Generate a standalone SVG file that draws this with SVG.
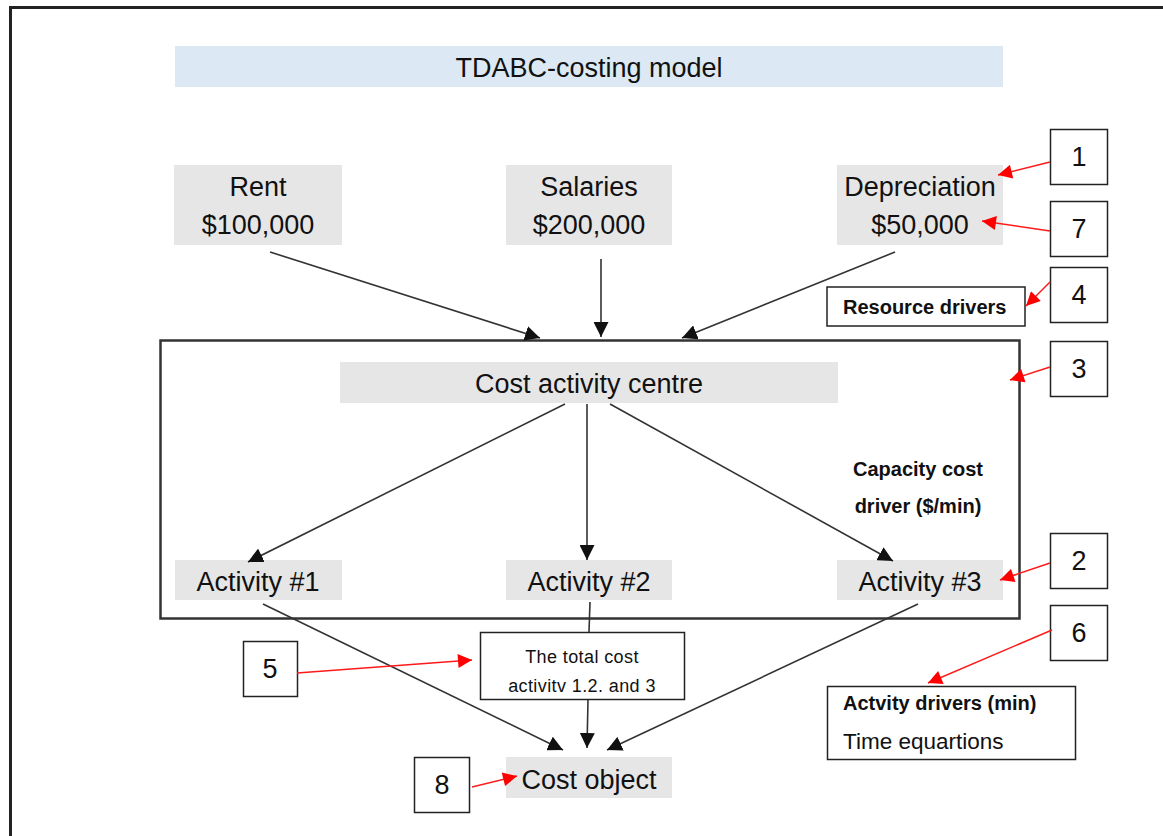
<svg xmlns="http://www.w3.org/2000/svg" width="1163" height="836" viewBox="0 0 1163 836">
  <style>
    text { font-family: "Liberation Sans", Arial, sans-serif; fill: #111; }
    .big { font-size: 27px; text-anchor: middle; }
    .num { font-size: 27px; text-anchor: middle; }
    .bold { font-size: 20px; font-weight: bold; }
    .small { font-size: 18px; text-anchor: middle; letter-spacing: 0.4px; }
    .cell { fill: #e6e6e6; }
    .box { fill: #fff; stroke: #222; stroke-width: 1.5; }
    .link { stroke: #333; stroke-width: 1.6; fill: none; }
    .red { stroke: #ff1a1a; stroke-width: 1.5; fill: none; }
  </style>
  <defs>
    <marker id="ah" viewBox="0 0 10 10" refX="10" refY="5" markerWidth="15" markerHeight="15" markerUnits="userSpaceOnUse" orient="auto">
      <path d="M0,0 L10,5 L0,10 z" fill="#111"/>
    </marker>
    <marker id="ahr" viewBox="0 0 10 10" refX="10" refY="5" markerWidth="15" markerHeight="14" markerUnits="userSpaceOnUse" orient="auto">
      <path d="M0,0 L10,5 L0,10 z" fill="#ff0000"/>
    </marker>
  </defs>

  <rect width="1163" height="836" fill="#fff"/>
  <!-- page frame -->
  <path d="M10.5,836 V7.5 H1163" fill="none" stroke="#222" stroke-width="3"/>

  <!-- title -->
  <g id="title">
    <rect x="175" y="46" width="828" height="41" fill="#dce9f5"/>
    <text class="big" x="589" y="77">TDABC-costing model</text>
  </g>

  <!-- resources -->
  <g id="rent">
    <rect class="cell" x="174" y="165" width="168" height="80"/>
    <text class="big" x="258" y="196">Rent</text>
    <text class="big" x="258" y="234">$100,000</text>
  </g>
  <g id="salaries">
    <rect class="cell" x="506" y="165" width="166" height="80"/>
    <text class="big" x="589" y="196">Salaries</text>
    <text class="big" x="589" y="234">$200,000</text>
  </g>
  <g id="depreciation">
    <rect class="cell" x="837" y="165" width="166" height="80"/>
    <text class="big" x="920" y="196">Depreciation</text>
    <text class="big" x="920" y="234">$50,000</text>
  </g>

  <g id="resource-drivers">
    <rect class="box" x="827" y="287" width="198" height="39"/>
    <text class="bold" x="843" y="314" font-size="21">Resource drivers</text>
  </g>

  <!-- activity centre container -->
  <g id="activity-centre">
    <rect x="160.5" y="340.5" width="859" height="278" fill="none" stroke="#333" stroke-width="2.5"/>
  </g>
  <g id="cost-activity-centre">
    <rect class="cell" x="340" y="362" width="498" height="41"/>
    <text class="big" x="589" y="393">Cost activity centre</text>
  </g>
  <g id="capacity-driver">
    <text class="bold" x="918" y="476" text-anchor="middle">Capacity cost</text>
    <text class="bold" x="918" y="513" text-anchor="middle">driver ($/min)</text>
  </g>
  <g id="activity-1">
    <rect class="cell" x="175" y="560" width="167" height="40"/>
    <text class="big" x="258" y="591">Activity #1</text>
  </g>
  <g id="activity-2">
    <rect class="cell" x="506" y="560" width="166" height="40"/>
    <text class="big" x="589" y="591">Activity #2</text>
  </g>
  <g id="activity-3">
    <rect class="cell" x="837" y="560" width="166" height="40"/>
    <text class="big" x="920" y="591">Activity #3</text>
  </g>

  <g id="total-cost">
    <rect class="box" x="480.5" y="632.5" width="204" height="67"/>
    <text class="small" x="582" y="663">The total cost</text>
    <text class="small" x="582" y="692">activitv 1.2. and 3</text>
  </g>

  <g id="activity-drivers">
    <rect class="box" x="827.5" y="686.5" width="248" height="73"/>
    <text class="bold" x="843" y="710" font-size="21.5">Actvity drivers (min)</text>
    <text x="843" y="749" font-size="22.5">Time equartions</text>
  </g>

  <g id="cost-object">
    <rect class="cell" x="506" y="757" width="166" height="41"/>
    <text class="big" x="589" y="789">Cost object</text>
  </g>

  <!-- numbered callouts -->
  <g id="n1"><rect class="box" x="1050.5" y="129.5" width="57" height="55"/><text class="num" x="1079" y="166">1</text></g>
  <g id="n7"><rect class="box" x="1050.5" y="201.5" width="57" height="55"/><text class="num" x="1079" y="238">7</text></g>
  <g id="n4"><rect class="box" x="1050.5" y="267.5" width="57" height="55"/><text class="num" x="1079" y="304">4</text></g>
  <g id="n3"><rect class="box" x="1050.5" y="341.5" width="57" height="55"/><text class="num" x="1079" y="378">3</text></g>
  <g id="n2"><rect class="box" x="1050.5" y="533.5" width="57" height="55"/><text class="num" x="1079" y="570">2</text></g>
  <g id="n6"><rect class="box" x="1050.5" y="605.5" width="57" height="55"/><text class="num" x="1079" y="642">6</text></g>
  <g id="n5"><rect class="box" x="243.5" y="641.5" width="54" height="55"/><text class="num" x="270" y="678">5</text></g>
  <g id="n8"><rect class="box" x="414.5" y="757.5" width="55" height="55"/><text class="num" x="442" y="794">8</text></g>

  <!-- connectors -->
  <g id="connectors">
    <line class="link" x1="270" y1="252" x2="540" y2="338" marker-end="url(#ah)"/>
    <line class="link" x1="601" y1="259" x2="601" y2="337" marker-end="url(#ah)"/>
    <line class="link" x1="895" y1="252" x2="682" y2="338" marker-end="url(#ah)"/>
    <line class="link" x1="565" y1="404" x2="248" y2="562" marker-end="url(#ah)"/>
    <line class="link" x1="587" y1="404" x2="587" y2="560" marker-end="url(#ah)"/>
    <line class="link" x1="610" y1="404" x2="893" y2="561" marker-end="url(#ah)"/>
    <line class="link" x1="263" y1="604" x2="563" y2="750" marker-end="url(#ah)"/>
    <line class="link" x1="590" y1="602" x2="589" y2="632"/>
    <line class="link" x1="588" y1="700" x2="587" y2="748" marker-end="url(#ah)"/>
    <line class="link" x1="918" y1="604" x2="607" y2="750" marker-end="url(#ah)"/>

    <line class="red" x1="1050" y1="162" x2="998" y2="175" marker-end="url(#ahr)"/>
    <line class="red" x1="1050" y1="231" x2="982" y2="221" marker-end="url(#ahr)"/>
    <line class="red" x1="1050" y1="282" x2="1026" y2="306" marker-end="url(#ahr)"/>
    <line class="red" x1="1050" y1="367" x2="1010" y2="380" marker-end="url(#ahr)"/>
    <line class="red" x1="1050" y1="563" x2="1000" y2="580" marker-end="url(#ahr)"/>
    <line class="red" x1="1052" y1="630" x2="928" y2="683" marker-end="url(#ahr)"/>
    <line class="red" x1="297" y1="673" x2="472" y2="660" marker-end="url(#ahr)"/>
    <line class="red" x1="472" y1="787" x2="517" y2="776" marker-end="url(#ahr)"/>
  </g>
</svg>
